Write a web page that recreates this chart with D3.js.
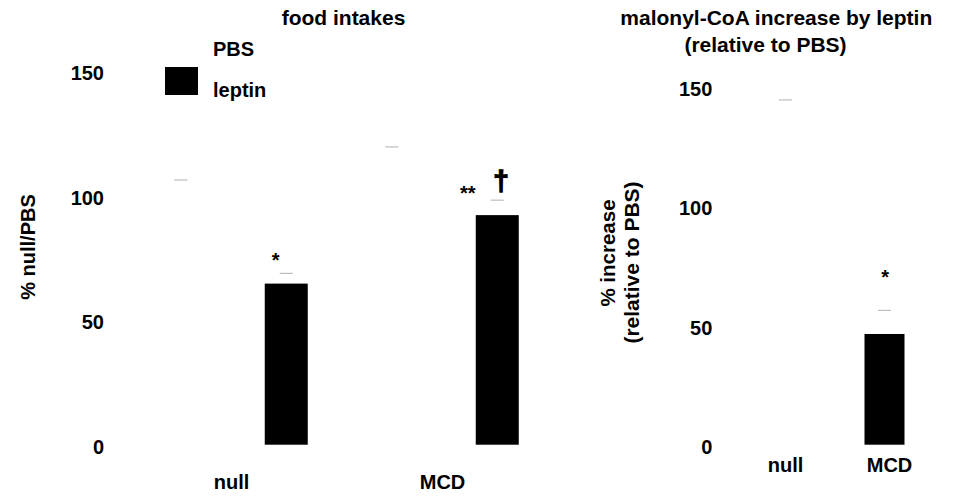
<!DOCTYPE html>
<html>
<head>
<meta charset="utf-8">
<script src="https://cdn.jsdelivr.net/npm/d3@7"></script>
<style>
  html, body { margin: 0; padding: 0; background: #fff; }
  svg { display: block; font-family: "Liberation Sans", Arial, Helvetica, sans-serif; font-weight: bold; }
</style>
</head>
<body>
<svg id="chart" width="958" height="496"></svg>
<script>
// ---- data ----
const categories = ["null", "MCD"];
const seriesNames = ["PBS", "leptin"];
const seriesColors = ["#ffffff", "#000000"];

// food intakes, % of null/PBS
const foodPBS = [100, 100];
const foodPBSErr = [6.3, 19.6];
const foodLeptin = [64.7, 92.2];
const foodLeptinErr = [4.1, 6.0];

// malonyl-CoA increase by leptin, % relative to PBS
const malonylValues = [100, 46.4];
const malonylErr = [44.5, 9.9];
const malonylColors = ["#ffffff", "#000000"];

const yTicks = [0, 50, 100, 150];

// significance marks
const foodMarks = [
  { cat: "null", series: "leptin", text: "*" },
  { cat: "MCD", series: "leptin", text: "**" },
  { cat: "MCD", series: "leptin", text: "\u2020" }
];
const malonylMarks = [{ cat: "MCD", text: "*" }];

// ---- drawing ----
const svg = d3.select("#chart");
const capColor = "#bdbdbd";
const capW = 13;

// left panel: food intakes
const yL = d3.scaleLinear().domain([0, 150]).range([444.7, 71.2]);
const xOuter = d3.scaleBand().domain(categories).range([128, 550]);
const xInner = d3.scalePoint().domain(seriesNames).range([0, xOuter.bandwidth()]).padding(0.5);
const barWL = 43;

const foodRows = [];
categories.forEach((c, i) => {
  foodRows.push({ cat: c, series: "PBS", v: foodPBS[i], e: foodPBSErr[i], color: seriesColors[0] });
  foodRows.push({ cat: c, series: "leptin", v: foodLeptin[i], e: foodLeptinErr[i], color: seriesColors[1] });
});
const cxL = d => xOuter(d.cat) + xInner(d.series);

const left = svg.append("g");
left.selectAll("rect.bar").data(foodRows).join("rect")
  .attr("class", "bar")
  .attr("x", d => cxL(d) - barWL / 2)
  .attr("width", barWL)
  .attr("y", d => yL(d.v))
  .attr("height", d => yL(0) - yL(d.v))
  .attr("fill", d => d.color);
left.selectAll("line.cap").data(foodRows).join("line")
  .attr("class", "cap")
  .attr("x1", d => cxL(d) - capW / 2)
  .attr("x2", d => cxL(d) + capW / 2)
  .attr("y1", d => yL(d.v + d.e))
  .attr("y2", d => yL(d.v + d.e))
  .attr("stroke", capColor).attr("stroke-width", 1.2);

const axL = left.append("g").attr("transform", "translate(104,0)")
  .call(d3.axisLeft(yL).tickValues(yTicks).tickSize(0).tickPadding(0));
axL.select(".domain").remove();
axL.selectAll("text").attr("dy", "0.43em").style("font-size", "20px")
  .style("font-family", "Liberation Sans, Arial, sans-serif").style("font-weight", "bold").attr("fill", "#000");

left.selectAll("text.xlab").data(categories).join("text")
  .attr("class", "xlab")
  .attr("x", d => xOuter(d) + xOuter.bandwidth() / 2 - 2)
  .attr("y", 489)
  .attr("text-anchor", "middle").style("font-size", "20px").text(d => d);

left.append("text").attr("x", 343.5).attr("y", 24.5).attr("text-anchor", "middle")
  .style("font-size", "21px").text("food intakes");
left.append("text").attr("transform", "translate(35,247) rotate(-90)")
  .attr("text-anchor", "middle").style("font-size", "20px").text("% null/PBS");

// legend
const legend = left.append("g").attr("transform", "translate(165,26)");
seriesNames.forEach((s, i) => {
  legend.append("rect").attr("x", 0).attr("y", i * 41).attr("width", 33).attr("height", 28)
    .attr("fill", seriesColors[i]);
  legend.append("text").attr("x", 48).attr("y", 30 + i * 41).style("font-size", "20px").text(s);
});

// significance marks, left
const markLayoutL = [
  { dx: -10.5, dy: -6.3, size: 20, stroke: 0 },
  { dx: -29.5, dy: 0.3, size: 20, stroke: 0 },
  { dx: 3.7, dy: -10.5, size: 28, stroke: 1.3 }
];
foodMarks.forEach((m, i) => {
  const row = foodRows.find(r => r.cat === m.cat && r.series === m.series);
  const L = markLayoutL[i];
  const t = left.append("text")
    .attr("x", cxL(row) + L.dx)
    .attr("y", yL(row.v + row.e) + L.dy)
    .attr("text-anchor", "middle").style("font-size", L.size + "px").text(m.text);
  if (L.stroke) t.attr("stroke", "#000").attr("stroke-width", L.stroke);
});

// right panel: malonyl-CoA
const yR = d3.scaleLinear().domain([0, 150]).range([444.7, 86.8]);
const xR = d3.scalePoint().domain(categories).range([736, 934]).padding(0.5);
const barWR = 40;
const malRows = categories.map((c, i) => ({ cat: c, v: malonylValues[i], e: malonylErr[i], color: malonylColors[i] }));

const right = svg.append("g");
right.selectAll("rect.bar").data(malRows).join("rect")
  .attr("class", "bar")
  .attr("x", d => xR(d.cat) - barWR / 2)
  .attr("width", barWR)
  .attr("y", d => yR(d.v))
  .attr("height", d => yR(0) - yR(d.v))
  .attr("fill", d => d.color);
right.selectAll("line.cap").data(malRows).join("line")
  .attr("class", "cap")
  .attr("x1", d => xR(d.cat) - capW / 2)
  .attr("x2", d => xR(d.cat) + capW / 2)
  .attr("y1", d => yR(d.v + d.e))
  .attr("y2", d => yR(d.v + d.e))
  .attr("stroke", capColor).attr("stroke-width", 1.2);

const axR = right.append("g").attr("transform", "translate(712.3,0)")
  .call(d3.axisLeft(yR).tickValues(yTicks).tickSize(0).tickPadding(0));
axR.select(".domain").remove();
axR.selectAll("text").attr("dy", "0.43em").style("font-size", "20px")
  .style("font-family", "Liberation Sans, Arial, sans-serif").style("font-weight", "bold").attr("fill", "#000");

right.selectAll("text.xlab").data(categories).join("text")
  .attr("class", "xlab")
  .attr("x", (d, i) => xR(d) + (i === 1 ? 5 : 0))
  .attr("y", 472)
  .attr("text-anchor", "middle").style("font-size", "20px").text(d => d);

right.append("text").attr("x", 776.3).attr("y", 25).attr("text-anchor", "middle")
  .style("font-size", "21px").text("malonyl-CoA increase by leptin");
right.append("text").attr("x", 765.5).attr("y", 51.5).attr("text-anchor", "middle")
  .style("font-size", "21px").text("(relative to PBS)");

right.append("text").attr("transform", "translate(614.6,253) rotate(-90)")
  .attr("text-anchor", "middle").style("font-size", "20.5px").text("% increase");
right.append("text").attr("transform", "translate(638.9,262.5) rotate(-90)")
  .attr("text-anchor", "middle").style("font-size", "21px").text("(relative to PBS)");

malonylMarks.forEach(m => {
  const row = malRows.find(r => r.cat === m.cat);
  right.append("text")
    .attr("x", xR(row.cat) + 0.7)
    .attr("y", yR(row.v + row.e) - 26.3)
    .attr("text-anchor", "middle").style("font-size", "20px").text(m.text);
});
</script>
</body>
</html>
